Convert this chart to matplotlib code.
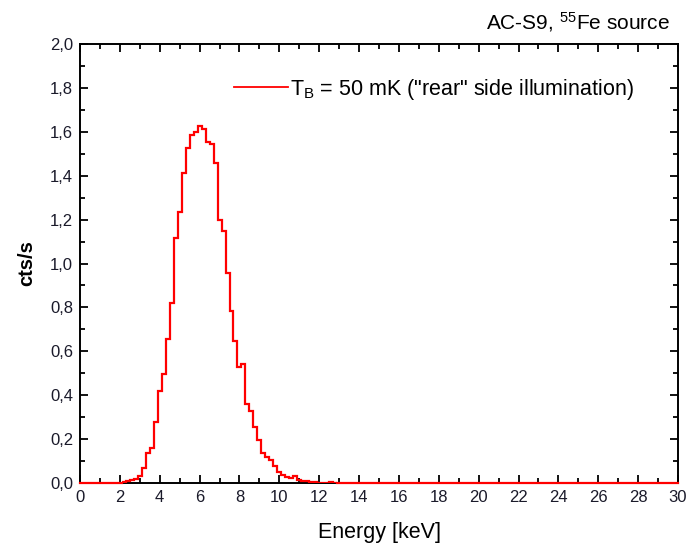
import numpy as np
import matplotlib
matplotlib.use("Agg")
import matplotlib.pyplot as plt
from matplotlib.ticker import MultipleLocator, FuncFormatter

plt.rcParams['font.family'] = ['Liberation Sans', 'DejaVu Sans']
plt.rcParams['mathtext.fontset'] = 'custom'
plt.rcParams['mathtext.rm'] = 'Liberation Sans'
plt.rcParams['mathtext.it'] = 'Liberation Sans'

# Histogram data: bins of 0.2 keV starting at 2.1 keV
first_edge_kev = 2.1
bin_width_kev = 0.2
counts = [0.005, 0.010, 0.014, 0.020, 0.033, 0.070, 0.138, 0.158, 0.279, 0.420,
          0.497, 0.655, 0.819, 1.115, 1.236, 1.411, 1.525, 1.585, 1.600, 1.626,
          1.611, 1.552, 1.543, 1.456, 1.198, 1.150, 0.955, 0.784, 0.648, 0.527,
          0.541, 0.360, 0.328, 0.257, 0.196, 0.138, 0.120, 0.105, 0.077, 0.051,
          0.036, 0.029, 0.024, 0.030, 0.015, 0.010, 0.008, 0.005, 0.003, 0.000,
          0.000, 0.000, 0.006, 0.000]
x_ticks = [0, 2, 4, 6, 8, 10, 12, 14, 16, 18, 20, 22, 24, 26, 28, 30]
y_ticks = [0.0, 0.2, 0.4, 0.6, 0.8, 1.0, 1.2, 1.4, 1.6, 1.8, 2.0]
legend_label = r'T$_{\mathrm{B}}$ = 50 mK ("rear" side illumination)'
title_text = r'AC-S9, $^{55}$Fe source'

edges = first_edge_kev + bin_width_kev * np.arange(len(counts) + 1)
red = '#ff0000'

fig = plt.figure(figsize=(6.86, 5.47), dpi=100)
W, H = 686, 547
ax = fig.add_axes([80 / W, 1 - 483 / H, (678 - 80) / W, (483 - 44) / H])

ax.plot([0, edges[0]], [0, 0], color=red, lw=1.6, clip_on=False, zorder=3)
ax.stairs(counts, edges, color=red, lw=1.6, baseline=None, zorder=3,
          label=legend_label)
ax.plot([edges[-1], 30], [0, 0], color=red, lw=1.6, clip_on=False, zorder=3)

ax.set_xlim(0, 30)
ax.set_ylim(0, 2.0)
ax.set_xticks(x_ticks)
ax.set_yticks(y_ticks)
ax.xaxis.set_minor_locator(MultipleLocator(1))
ax.yaxis.set_minor_locator(MultipleLocator(0.1))
ax.yaxis.set_major_formatter(FuncFormatter(lambda v, p: f'{v:.1f}'.replace('.', ',')))
ax.tick_params(which='both', direction='in', top=True, right=True, width=1.3,
               labelsize=12, labelcolor='#1a1a2a', pad=5)
ax.tick_params(which='major', length=6)
ax.tick_params(which='minor', length=3.5)
for s in ax.spines.values():
    s.set_linewidth(1.4)

ax.set_xlabel('Energy [keV]', fontsize=15.5, labelpad=12)
ax.set_ylabel('cts/s', fontsize=14.5, fontweight='bold', labelpad=10)

leg = ax.legend(loc='center left', bbox_to_anchor=(234 / W, 1 - 89 / H),
                bbox_transform=fig.transFigure, frameon=False, fontsize=15.5,
                handlelength=2.5, handletextpad=0.1, borderpad=0, borderaxespad=0)
for l in leg.get_lines():
    l.set_linewidth(1.3)

fig.text(670 / W, 1 - 22 / H, title_text, ha='right', va='center', fontsize=15)

fig.savefig('out.png', dpi=100)
